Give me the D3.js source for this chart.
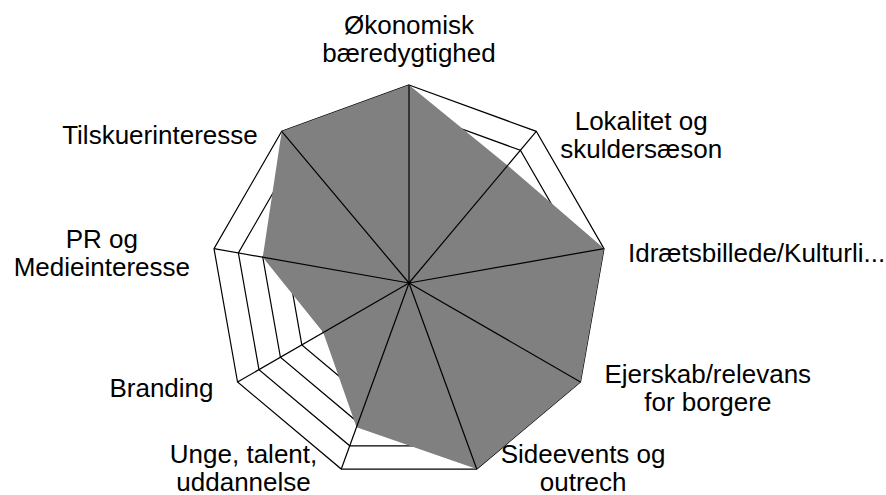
<!DOCTYPE html>
<html>
<head>
<meta charset="utf-8">
<script src="https://cdn.jsdelivr.net/npm/d3@7"></script>
<style>
  body { margin: 0; background: #fff; }
  svg text { font-family: "Liberation Sans", Arial, sans-serif; font-size: 26px; fill: #000; }
</style>
</head>
<body>
<svg id="chart"></svg>
<script>
// Category labels (already wrapped the way the chart shows them)
const categories = [
    ["Økonomisk", "bæredygtighed"],
    ["Lokalitet og", "skuldersæson"],
    ["Idrætsbillede/Kulturli..."],
    ["Ejerskab/relevans", "for borgere"],
    ["Sideevents og", "outrech"],
    ["Unge, talent,", "uddannelse"],
    ["Branding"],
    ["PR og", "Medieinteresse"],
    ["Tilskuerinteresse"]
];

// Series values
const values = [4, 3.1, 4, 4, 4, 3.1, 2, 3, 4];

// Grid rings
const ringTicks = [0.5, 1, 1.5, 2, 2.5, 3, 3.5, 4];
const maxValue = 4;

// Set chart dimensions
const width = 886;
const height = 495;
const cx = 409;
const cy = 283;
const radius = 198;

const svg = d3.select("#chart")
    .attr("width", width)
    .attr("height", height);

const n = categories.length;
const angle = i => -Math.PI / 2 + i * 2 * Math.PI / n;
const r = d3.scaleLinear().domain([0, maxValue]).range([0, radius]);

const point = (i, v) => [cx + r(v) * Math.cos(angle(i)), cy + r(v) * Math.sin(angle(i))];

const g = svg.append("g");

// Rings (drawn below the area)
g.selectAll("polygon.ring")
    .data(ringTicks)
    .join("polygon")
    .attr("class", "ring")
    .attr("points", t => d3.range(n).map(i => point(i, t).join(",")).join(" "))
    .attr("fill", "none")
    .attr("stroke", "#000")
    .attr("stroke-width", 1.2);

// Area
const line = d3.line().curve(d3.curveLinearClosed);
g.append("path")
    .attr("d", line(values.map((v, i) => point(i, v))))
    .attr("fill", "#808080");

// Spokes on top
g.selectAll("line.spoke")
    .data(d3.range(n))
    .join("line")
    .attr("class", "spoke")
    .attr("x1", cx)
    .attr("y1", cy)
    .attr("x2", i => point(i, maxValue)[0])
    .attr("y2", i => point(i, maxValue)[1])
    .attr("stroke", "#000")
    .attr("stroke-width", 1.2);

// Category labels
const lineHeight = 28;
const gap = 24;
categories.forEach((lines, i) => {
    const [vx, vy] = point(i, maxValue);
    const text = g.append("text").attr("text-anchor", "middle");
    const spans = lines.map(l => text.append("tspan").text(l));
    const w = d3.max(spans, s => s.node().getComputedTextLength());
    const c = Math.cos(angle(i));
    const s = Math.sin(angle(i));
    let x, firstBase;
    if (Math.abs(c) < 0.01) {
        x = vx;
        firstBase = vy - 23 - (lines.length - 1) * lineHeight;
    } else {
        x = c > 0 ? vx + gap + w / 2 : vx - gap - w / 2;
        // label block sits roughly centred on the vertex
        const shift = s > 0.8 ? -1 : (s > 0.3 ? 6 : 4);
        firstBase = vy + 9 + shift - (lines.length - 1) / 2 * lineHeight;
    }
    spans.forEach((sp, j) => sp.attr("x", x).attr("y", firstBase + j * lineHeight));
});
</script>
</body>
</html>
